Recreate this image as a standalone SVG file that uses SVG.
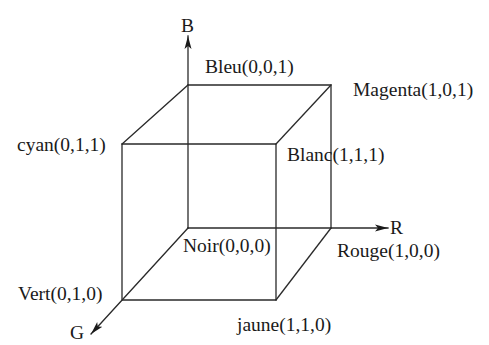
<svg xmlns="http://www.w3.org/2000/svg" width="489" height="345" viewBox="0 0 489 345">
<style>
.e{stroke:#2a2a2a;stroke-width:1.3;fill:none;stroke-linecap:square}
.t{font-family:"Liberation Serif","Times New Roman",serif;font-size:19.5px;fill:#1a1a1a}
</style>
<defs>
<marker id="ah" markerUnits="userSpaceOnUse" markerWidth="14" markerHeight="10" refX="13" refY="4" orient="auto">
<path d="M0,0.5 L13,4 L0,7.5 L3,4 z" fill="#1a1a1a"/>
</marker>
</defs>
<rect width="489" height="345" fill="#fff"/>
<g id="connectors">
<line class="e" x1="188" y1="228" x2="188" y2="36" marker-end="url(#ah)"/>
<line class="e" x1="188" y1="228" x2="388" y2="228" marker-end="url(#ah)"/>
<line class="e" x1="188" y1="228" x2="91" y2="334" marker-end="url(#ah)"/>
<path class="e" d="M188,85 L331,85 L331,228"/>
<path class="e" d="M122,144 L276,144 L276,300 L122,300 Z"/>
<line class="e" x1="188" y1="85" x2="122" y2="144"/>
<line class="e" x1="331" y1="85" x2="276" y2="144"/>
<line class="e" x1="331" y1="228" x2="276" y2="300"/>
</g>
<g id="axis-B"><text class="t" x="181" y="32">B</text></g>
<g id="axis-R"><text class="t" x="390" y="234">R</text></g>
<g id="axis-G"><text class="t" x="70" y="339">G</text></g>
<g id="bleu"><text class="t" x="205" y="73">Bleu(0,0,1)</text></g>
<g id="magenta"><text class="t" x="353" y="96">Magenta(1,0,1)</text></g>
<g id="cyan"><text class="t" x="17" y="151">cyan(0,1,1)</text></g>
<g id="blanc"><text class="t" x="287" y="161">Blanc(1,1,1)</text></g>
<g id="noir"><text class="t" x="183" y="252">Noir(0,0,0)</text></g>
<g id="rouge"><text class="t" x="337" y="257">Rouge(1,0,0)</text></g>
<g id="vert"><text class="t" x="18" y="300">Vert(0,1,0)</text></g>
<g id="jaune"><text class="t" x="237" y="331">jaune(1,1,0)</text></g>
</svg>
